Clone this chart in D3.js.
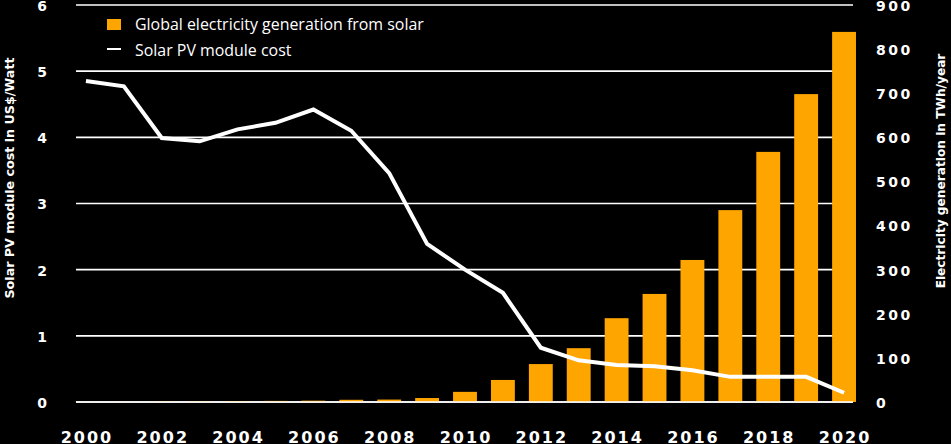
<!DOCTYPE html>
<html>
<head>
<meta charset="utf-8">
<script src="https://cdn.jsdelivr.net/npm/d3@7"></script>
<style>
html,body{margin:0;padding:0;background:#000;}
svg{display:block;}
</style>
</head>
<body>
<svg id="chart" width="951" height="444"></svg>
<script>
const years = [2000,2001,2002,2003,2004,2005,2006,2007,2008,2009,2010,2011,2012,2013,2014,2015,2016,2017,2018,2019,2020];
const generation = [0.3,0.5,1.2,1.5,2,2.5,3,5,5.5,9,23,50,86,122,190,245,322,435,567,698,839];
const moduleCost = [4.85,4.77,3.99,3.94,4.12,4.22,4.42,4.10,3.46,2.39,2.0,1.65,0.82,0.63,0.56,0.54,0.48,0.38,0.38,0.38,0.14];
const xTickYears = [2000,2002,2004,2006,2008,2010,2012,2014,2016,2018,2020];
const leftTicks = [0,1,2,3,4,5,6];
const rightTicks = [0,100,200,300,400,500,600,700,800,900];
const legendLabels = ["Global electricity generation from solar","Solar PV module cost"];
const leftTitle = "Solar PV module cost in US$/Watt";
const rightTitle = "Electricity generation in TWh/year";

(function(){
const ORANGE = "#ffa500";
const svg = d3.select("#chart");
svg.append("rect").attr("width",951).attr("height",444).attr("fill","#000");

function fit(sel, target, base){
  const len = sel.node().getComputedTextLength();
  if (len > 0) sel.style("font-size", (base*target/len).toFixed(2)+"px");
}

const plotTop = 5, plotBottom = 402;
const x = d3.scaleBand().domain(years).range([67,863]).paddingInner(0.37).paddingOuter(0.185);
const yL = d3.scaleLinear().domain([0,6]).range([plotBottom, plotTop]);
const yR = d3.scaleLinear().domain([0,900]).range([plotBottom, plotTop]);

const gridX0 = 76, gridX1 = 853;
svg.append("g").selectAll("line").data(leftTicks).join("line")
  .attr("x1",gridX0).attr("x2",gridX1)
  .attr("y1",d=>yL(d)).attr("y2",d=>yL(d))
  .attr("stroke","#fff").attr("stroke-width",1.6);

svg.append("g").selectAll("rect").data(years).join("rect")
  .attr("x",d=>x(d)).attr("width",x.bandwidth())
  .attr("y",(d,i)=>yR(generation[i]))
  .attr("height",(d,i)=>yR(0)-yR(generation[i]))
  .attr("fill",ORANGE);

svg.append("line").attr("x1",gridX0).attr("x2",gridX1)
  .attr("y1",yL(0)).attr("y2",yL(0)).attr("stroke","#fff").attr("stroke-width",1.6);

const line = d3.line().x((d,i)=>x(years[i])+x.bandwidth()/2).y(d=>yL(d));
svg.append("path").datum(moduleCost).attr("d",line)
  .attr("fill","none").attr("stroke","#fff").attr("stroke-width",4)
  .attr("stroke-linejoin","miter");

const tickFont = "'DejaVu Sans', sans-serif";
svg.append("g").selectAll("text").data(leftTicks).join("text")
  .attr("x",42).attr("y",d=>yL(d)).attr("dy","0.42em")
  .attr("text-anchor","middle").attr("fill","#fff")
  .style("font-family",tickFont).style("font-weight","bold").style("font-size","14px")
  .text(d=>d);

svg.append("g").selectAll("text").data(rightTicks).join("text")
  .attr("x",876).attr("y",d=>yR(d)).attr("dy","0.42em")
  .attr("text-anchor","start").attr("fill","#fff")
  .style("font-family",tickFont).style("font-weight","bold").style("font-size","14px")
  .style("letter-spacing","2.5px")
  .text(d=>d);

svg.append("g").selectAll("text").data(xTickYears).join("text")
  .attr("x",d=>x(d)+x.bandwidth()/2+1).attr("y",442.5)
  .attr("text-anchor","middle").attr("fill","#fff")
  .style("font-family",tickFont).style("font-weight","bold").style("font-size","16px")
  .style("letter-spacing","2px")
  .text(d=>d);

const lt = svg.append("text").attr("transform","translate(14,178) rotate(-90)")
  .attr("text-anchor","middle").attr("fill","#fff")
  .style("font-family",tickFont).style("font-weight","bold").style("font-size","13px")
  .text(leftTitle);
fit(lt, 241, 13);
const rt = svg.append("text").attr("transform","translate(945,171) rotate(-90)")
  .attr("text-anchor","middle").attr("fill","#fff")
  .style("font-family",tickFont).style("font-weight","bold").style("font-size","13px")
  .text(rightTitle);
fit(rt, 235, 13);

const lg = svg.append("g");
lg.append("rect").attr("x",107).attr("y",19).attr("width",14).attr("height",11).attr("fill",ORANGE);
lg.append("line").attr("x1",107).attr("x2",121).attr("y1",49).attr("y2",49).attr("stroke","#fff").attr("stroke-width",2);
const lts = lg.selectAll("text").data(legendLabels).join("text")
  .attr("x",135).attr("y",(d,i)=>29.5+i*26)
  .attr("fill","#fff")
  .style("font-family","'Open Sans', sans-serif").style("font-size","15px")
  .text(d=>d);
fit(d3.select(lts.nodes()[0]), 289, 15);
lts.style("font-size", d3.select(lts.nodes()[0]).style("font-size"));
})();
</script>
</body>
</html>
